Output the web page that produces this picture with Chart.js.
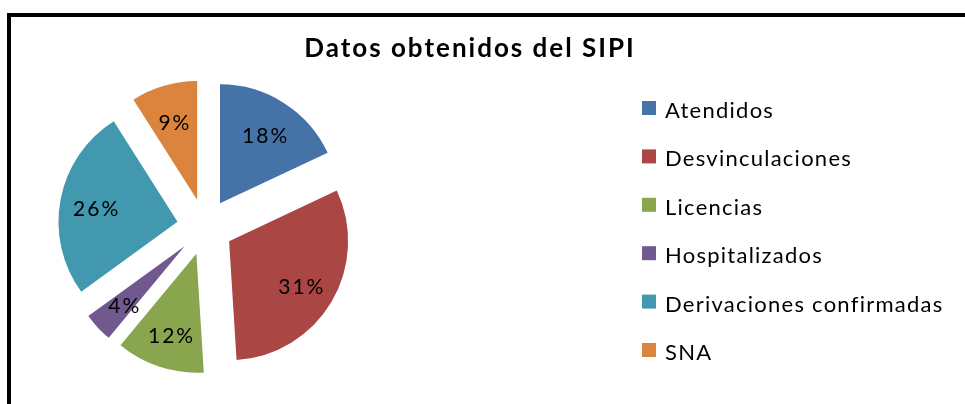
<!DOCTYPE html>
<html>
<head>
<meta charset="utf-8">
<script src="https://cdn.jsdelivr.net/npm/chart.js@4"></script>
<style>
  html, body { margin: 0; padding: 0; background: #fff; overflow: hidden; }
  #frame {
    position: absolute; left: 7px; top: 13px; width: 1000px; height: 500px;
    border-left: 4px solid #000; border-top: 4px solid #000;
  }
  #wrap { position: absolute; left: 0; top: 0; width: 965px; height: 404px; }
</style>
</head>
<body>
<div id="frame"></div>
<div id="wrap"><canvas id="sipiChart" width="965" height="404"></canvas></div>
<script>
const chartTitle = 'Datos obtenidos del SIPI';
const categories = ['Atendidos', 'Desvinculaciones', 'Licencias', 'Hospitalizados', 'Derivaciones confirmadas', 'SNA'];
const percentages = [18, 31, 12, 4, 26, 9];
const sliceColors = ['#4572A7', '#AA4643', '#89A54E', '#71588F', '#4198AF', '#DB843D'];

const EXPLODE = 28;
const FONT = 'Lato, "Noto Sans", sans-serif';

// pull every slice out from the centre
const explodePlugin = {
    id: 'explode',
    beforeDatasetDraw(chart, args) {
        const ctx = chart.ctx;
        args.meta.data.forEach(arc => {
            const mid = (arc.startAngle + arc.endAngle) / 2;
            ctx.save();
            ctx.translate(Math.cos(mid) * EXPLODE, Math.sin(mid) * EXPLODE);
            arc.draw(ctx);
            ctx.restore();
        });
        return false;
    }
};

// percent labels, title and legend
const textPlugin = {
    id: 'texts',
    afterDraw(chart) {
        const ctx = chart.ctx;
        const meta = chart.getDatasetMeta(0);
        ctx.save();
        ctx.fillStyle = '#000';
        ctx.textAlign = 'center';
        ctx.textBaseline = 'alphabetic';
        ctx.font = '21px ' + FONT;
        ctx.letterSpacing = '2px';
        meta.data.forEach((arc, i) => {
            const mid = (arc.startAngle + arc.endAngle) / 2;
            const d = EXPLODE + arc.outerRadius * 0.7;
            ctx.fillText(percentages[i] + '%', arc.x + Math.cos(mid) * d + 1, arc.y + Math.sin(mid) * d + 10);
        });

        ctx.font = 'bold 26px ' + FONT;
        ctx.letterSpacing = '2px';
        ctx.fillText(chartTitle, 470, 57);

        ctx.textAlign = 'left';
        ctx.font = '22px ' + FONT;
        ctx.letterSpacing = '1.25px';
        categories.forEach((label, i) => {
            const y = 101 + i * 48.4;
            ctx.fillStyle = sliceColors[i];
            ctx.fillRect(642, y, 14, 14);
            ctx.fillStyle = '#000';
            ctx.fillText(label, 665, y + 17);
        });
        ctx.restore();
    }
};

new Chart(document.getElementById('sipiChart'), {
    type: 'pie',
    data: {
        labels: categories,
        datasets: [{
            data: percentages,
            backgroundColor: sliceColors,
            borderWidth: 0,
            radius: 119
        }]
    },
    options: {
        responsive: false,
        animation: false,
        layout: {
            padding: { left: 70, right: 625, top: 92, bottom: 42 }
        },
        plugins: {
            legend: { display: false },
            title: { display: false },
            tooltip: { enabled: false }
        }
    },
    plugins: [explodePlugin, textPlugin]
});
</script>
</body>
</html>
